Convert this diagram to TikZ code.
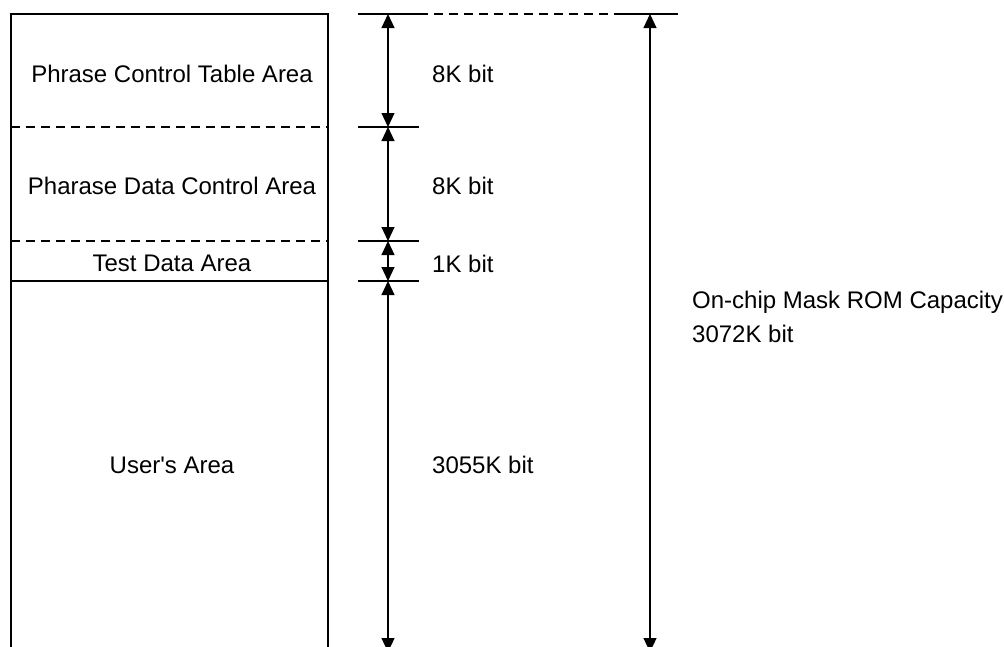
\documentclass[tikz,border=0pt]{standalone}
\usepackage{fontspec}
\setmainfont{Liberation Sans}
\usetikzlibrary{arrows.meta,positioning}
\def\Cap{On-chip Mask ROM Capacity}

\begin{document}
\begin{tikzpicture}[x=1pt,y=-1pt,% one unit is one pixel of the layout, y runs down
				every node/.style={
					font=\fontsize{24}{34}\selectfont,
					inner sep=0pt,		% text sits right on its coordinate
					align=left			% so that "\\" breaks a line
				},
				wall/.style={line width=2.4pt},
				split/.style={line width=2.4pt,dash pattern=on 9pt off 6pt},
				dim/.style={line width=1.1pt,{Triangle[width=13pt,length=14pt]}-{Triangle[width=13pt,length=14pt]}}
			]
			\useasboundingbox (0,0) rectangle (1004,646);
			% memory map
			\draw[wall] (11,648) -- (11,14) -- (328,14) -- (328,648);
			\draw[split] (11,127) -- (328,127);
			\draw[split] (11,241) -- (328,241);
			\draw[wall] (11,281) -- (328,281);
			\node (A1) at (172,74) {Phrase Control Table Area};
			\node (A2) at (172,186) {Pharase Data Control Area};
			\node (A3) at (172,263) {Test Data Area};
			\node (A4) at (172,465) {User\textquotesingle s Area};
			% ticks
			\coordinate (T0) at (388,14);
			\coordinate (T1) at (388,127);
			\coordinate (T2) at (388,241);
			\coordinate (T3) at (388,281);
			\coordinate (T4) at (388,652);
			\coordinate (R0) at (650,14);
			\coordinate (R1) at (650,652);
			\draw[wall] (358,14) -- (419,14);
			\draw[split] (419,14) -- (618,14);
			\draw[wall] (618,14) -- (678,14);
			\draw[wall] (358,127) -- (419,127);
			\draw[wall] (358,241) -- (419,241);
			\draw[wall] (358,281) -- (419,281);
			% sizes
			\draw[dim] (T0) -- (T1);
			\draw[dim] (T1) -- (T2);
			\draw[dim] (T2) -- (T3);
			\draw[dim] (T3) -- (T4);
			\draw[dim] (R0) -- (R1);
			\node[anchor=west] (S1) at (432,74) {8K bit};
			\node[anchor=west] (S2) at (432,186) {8K bit};
			\node[anchor=west] (S3) at (432,264) {1K bit};
			\node[anchor=west] (S4) at (432,465) {3055K bit};
			\node[anchor=west] (C) at (692,317) {\Cap \\ 3072K bit};
		\end{tikzpicture}
\end{document}
